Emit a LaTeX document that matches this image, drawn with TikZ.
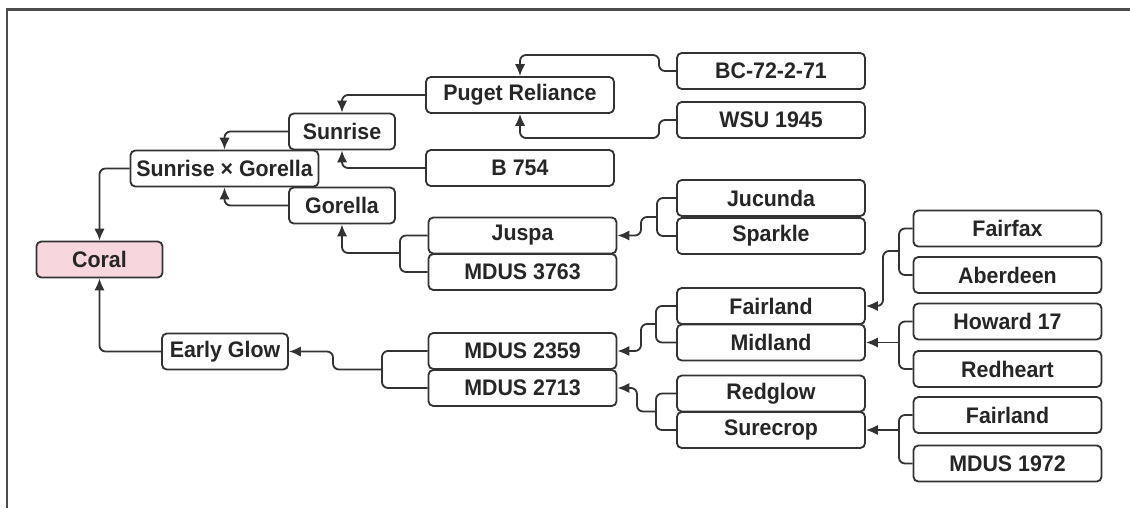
\documentclass[tikz,border=0pt]{standalone}
\usepackage{fontspec}
\setmainfont{Liberation Sans}[FakeStretch=0.95]
\usetikzlibrary{arrows.meta}
\definecolor{linegray}{HTML}{333333}
\definecolor{coralpink}{HTML}{F7D6DD}

\begin{document}
\begin{tikzpicture}[x=0.025cm, y=-0.025cm,
  cultivar/.style={draw=linegray, line width=1.3pt, rounded corners=0.12cm, fill=white,
    minimum height=0.9cm, inner sep=0pt, text=black!85,
    font=\fontsize{16}{18}\selectfont\bfseries},
  wide/.style={cultivar, minimum width=4.7cm},
  short/.style={cultivar, minimum width=3.15cm},
  small/.style={cultivar, minimum width=2.65cm},
  link/.style={draw=linegray, line width=1.3pt, rounded corners=0.15cm,
    -{Latex[length=3mm,width=2.6mm]}},
  tie/.style={draw=linegray, line width=1.3pt, rounded corners=0.15cm}]
\useasboundingbox (0,0) rectangle (1130,508);
\draw[line width=2pt, black!70] (7,508) -- (7,9.5) -- (1130,9.5);

\node[short, fill=coralpink] (n1) at (99.5,259.5) {Coral};
\node[wide] (n2) at (224.5,168.5) {Sunrise × Gorella};
\node[short] (n3) at (225,351.5) {Early Glow};
\node[small] (n4) at (342,131.5) {Sunrise};
\node[small] (n5) at (342,205.5) {Gorella};
\node[wide] (n6) at (520,95) {Puget Reliance};
\node[wide] (n7) at (520,168) {B 754};
\node[wide] (n8) at (522.5,235.5) {Juspa};
\node[wide] (n9) at (522.5,272) {MDUS 3763};
\node[wide] (n10) at (522.5,351) {MDUS 2359};
\node[wide] (n11) at (522.5,388) {MDUS 2713};
\node[wide] (n12) at (771,71) {BC-72-2-71};
\node[wide] (n13) at (771,120) {WSU 1945};
\node[wide] (n14) at (771,198) {Jucunda};
\node[wide] (n15) at (771,236) {Sparkle};
\node[wide] (n16) at (771,306) {Fairland};
\node[wide] (n17) at (771,342.5) {Midland};
\node[wide] (n18) at (771,393.5) {Redglow};
\node[wide] (n19) at (771,430) {Surecrop};
\node[wide] (n20) at (1007.5,228.5) {Fairfax};
\node[wide] (n21) at (1007.5,275) {Aberdeen};
\node[wide] (n22) at (1007.5,321.5) {Howard 17};
\node[wide] (n23) at (1007.5,369) {Redheart};
\node[wide] (n24) at (1007.5,415) {Fairland};
\node[wide] (n25) at (1007.5,463.5) {MDUS 1972};

\coordinate (j1) at (400,253);
\coordinate (j2) at (657,217);
\coordinate (j3) at (899,251);
\coordinate (j4) at (899,342.5);
\coordinate (j5) at (899,430);
\coordinate (j6) at (656,324);
\coordinate (j7) at (656,411.5);
\coordinate (j8) at (382,369.5);

\draw[link] (n2.west) -| (n1.north);
\draw[link] (n3.west) -| (n1.south);
\draw[link] (n4.west) -| (n2.north);
\draw[link] (n5.west) -| (n2.south);
\draw[link] (n6.west) -| (n4.north);
\draw[link] (n7.west) -| (n4.south);
\draw[link] (n12.west) -- ++(-17,0) -- ++(0,-16) -| (n6.north);
\draw[link] (n13.west) -- ++(-17,0) -- ++(0,18) -| (n6.south);

\draw[tie] (n8.west) -| (j1) |- (n9.west);
\draw[link] (j1) -| (n5.south);
\draw[tie] (n14.west) -| (j2) |- (n15.west);
\draw[link] (j2) -- ++(-16,0) |- (n8.east);
\draw[tie] (n20.west) -| (j3) |- (n21.west);
\draw[link] (j3) -- ++(-16,0) |- (n16.east);
\draw[tie] (n22.west) -| (j4) |- (n23.west);
\draw[link] (j4) -- (n17.east);
\draw[tie] (n24.west) -| (j5) |- (n25.west);
\draw[link] (j5) -- (n19.east);
\draw[tie] (n16.west) -| (j6) |- (n17.west);
\draw[link] (j6) -- ++(-15,0) |- (n10.east);
\draw[tie] (n18.west) -| (j7) |- (n19.west);
\draw[link] (j7) -- ++(-19,0) |- (n11.east);
\draw[tie] (n10.west) -| (j8) |- (n11.west);
\draw[link] (j8) -- ++(-49,0) |- (n3.east);
\end{tikzpicture}
\end{document}
